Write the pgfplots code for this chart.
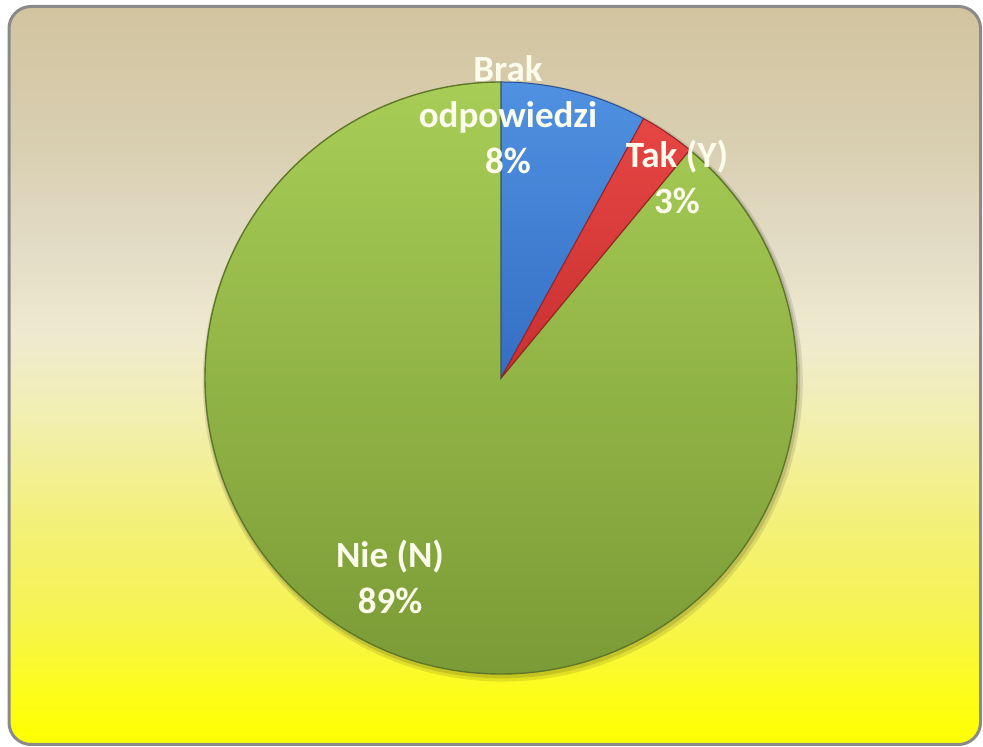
\documentclass[border=0pt]{standalone}
\usepackage{pgfplots}
\pgfplotsset{compat=1.18}
\usepackage{pgfplotstable}
\usepackage{fontspec}
\setmainfont{Carlito}

\definecolor{frameg}{RGB}{138,138,138}
\definecolor{bg0}{RGB}{255,255,0}
\definecolor{bg1}{RGB}{253,253,24}
\definecolor{bg2}{RGB}{246,244,80}
\definecolor{bg3}{RGB}{243,240,124}
\definecolor{bg4}{RGB}{242,239,176}
\definecolor{bg5}{RGB}{239,234,207}
\definecolor{bg6}{RGB}{227,220,198}
\definecolor{bg7}{RGB}{217,207,178}
\definecolor{bg8}{RGB}{210,196,159}
\definecolor{grT}{RGB}{168,205,86}
\definecolor{grB}{RGB}{120,152,52}
\definecolor{grE}{RGB}{95,120,40}
\definecolor{blT}{RGB}{80,145,225}
\definecolor{blB}{RGB}{52,110,195}
\definecolor{blE}{RGB}{40,80,150}
\definecolor{rdT}{RGB}{230,70,68}
\definecolor{rdB}{RGB}{200,48,48}
\definecolor{rdE}{RGB}{150,35,35}
\definecolor{lbl}{RGB}{252,252,236}

\pgfdeclareverticalshading{bgshade}{100bp}{
  color(0bp)=(bg0); color(25bp)=(bg0); color(28.2bp)=(bg1);
  color(33.6bp)=(bg2); color(40.4bp)=(bg3); color(47.1bp)=(bg4);
  color(52.5bp)=(bg5); color(58.6bp)=(bg6); color(65.3bp)=(bg7);
  color(75bp)=(bg8); color(100bp)=(bg8)}

\pgfplotstableread{
label value
Brak 8
Tak 3
Nie 89
}\piedata

\begin{document}
\begin{tikzpicture}[x=0.5pt,y=0.5pt]
\useasboundingbox (0,0) rectangle (983,747);
\fill[white] (0,0) rectangle (983,747);
\shade[shading=bgshade,rounded corners=11pt] (9,2.5) rectangle (980.5,740.5);
\draw[frameg,line width=1.5pt,rounded corners=11pt] (9,2.5) rectangle (980.5,740.5);

\pgfplotstablegetelem{0}{value}\of\piedata \pgfmathsetmacro\vA{\pgfplotsretval}
\pgfplotstablegetelem{1}{value}\of\piedata \pgfmathsetmacro\vB{\pgfplotsretval}
\pgfplotstablegetelem{2}{value}\of\piedata \pgfmathsetmacro\vC{\pgfplotsretval}
\pgfmathsetmacro\aA{90}
\pgfmathsetmacro\aB{\aA-3.6*\vA}
\pgfmathsetmacro\aC{\aB-3.6*\vB}
\pgfmathsetmacro\aD{\aC-3.6*\vC}

\begin{axis}[at={(0,0)},anchor=south west,x=148pt,y=148pt,
  xmin=-1.69257,xmax=1.62838,ymin=-1.24662,ymax=1.27703,
  hide axis,clip=false]
% soft shadow
\fill[black,opacity=0.10] (axis cs:0.006,-0.012) circle[radius=150pt];
\fill[black,opacity=0.12] (axis cs:0.004,-0.008) circle[radius=149pt];
% slices
\shade[top color=grT,bottom color=grB,draw=grE,line width=0.7pt]
  (axis cs:0,0) -- ++(\aC:148pt) arc[start angle=\aC,end angle=\aD,radius=148pt] -- cycle;
\shade[top color=blT,bottom color=blB,draw=blE,line width=0.5pt]
  (axis cs:0,0) -- ++(\aA:148pt) arc[start angle=\aA,end angle=\aB,radius=148pt] -- cycle;
\shade[top color=rdT,bottom color=rdB,draw=rdE,line width=0.5pt]
  (axis cs:0,0) -- ++(\aB:148pt) arc[start angle=\aB,end angle=\aC,radius=148pt] -- cycle;
% labels
\begin{scope}[every node/.style={text=lbl,align=center,
    font=\fontsize{18.5}{23}\selectfont\bfseries,inner sep=0pt}]
\node at (axis cs:0.0236,0.89) {Brak\\odpowiedzi\\8\%};
\node at (axis cs:0.5946,0.6791) {Tak (Y)\\3\%};
\node at (axis cs:-0.375,-0.6723) {Nie (N)\\89\%};
\end{scope}
\end{axis}
\end{tikzpicture}
\end{document}
